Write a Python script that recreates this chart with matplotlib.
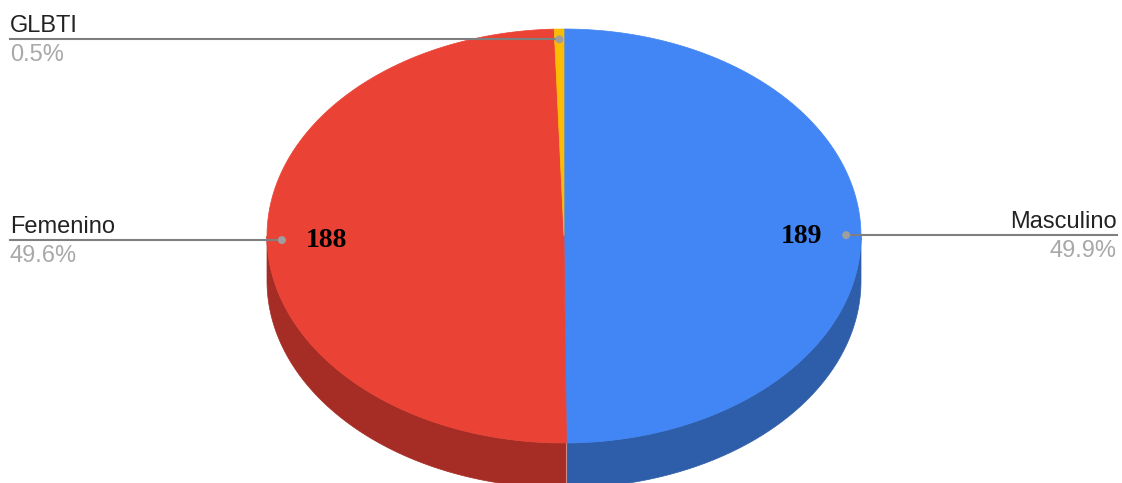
import numpy as np
import matplotlib
matplotlib.use("Agg")
import matplotlib.pyplot as plt
from matplotlib.patches import Polygon, Ellipse

# ---- data ----
labels = ["Masculino", "Femenino", "GLBTI"]
values = [189, 188, 2]
top_colors = ["#4285f4", "#ea4335", "#fbbc04"]
side_colors = ["#2e5eaa", "#a52d25", "#b08303"]

# ---- geometry (pixels) ----
W, H = 1122, 483
cx, cy = 564, 236
rx, ry = 297, 207
depth = 45
dot_r = 0.95
val_r = 0.80

fig = plt.figure(figsize=(W / 100, H / 100), dpi=100)
ax = fig.add_axes([0, 0, 1, 1])
ax.set_xlim(0, W)
ax.set_ylim(H, 0)
ax.axis("off")


def pt(theta_deg, r=1.0, dy=0.0):
    t = np.radians(theta_deg)
    return cx + r * rx * np.sin(t), cy - r * ry * np.cos(t) + dy


total = float(sum(values))
fracs = [v / total for v in values]
starts = np.concatenate([[0], np.cumsum(fracs)[:-1]]) * 360
ends = np.cumsum(fracs) * 360

# sides (front half: 90..270 deg clockwise from top)
for a0, a1, sc in zip(starts, ends, side_colors):
    s0, s1 = max(a0, 90), min(a1, 270)
    if s1 <= s0:
        continue
    th = np.linspace(s0, s1, 200)
    xs, ys = pt(th)
    top = np.column_stack([xs, ys])
    bot = np.column_stack([xs, ys + depth])[::-1]
    poly = Polygon(np.vstack([top, bot]), closed=True, facecolor=sc,
                   edgecolor=sc, lw=0.5, zorder=1)
    ax.add_patch(poly)

# seam line on the side at slice boundaries in the front
for a in ends[:-1]:
    if 90 < a < 270:
        x, y = pt(a)
        ax.plot([x, x], [y, y + depth], color="#d08a80", lw=0.8, zorder=1.5)

# top faces
for a0, a1, tc in zip(starts, ends, top_colors):
    th = np.linspace(a0, a1, max(3, int((a1 - a0) * 2)))
    xs, ys = pt(th)
    pts = np.vstack([[cx, cy], np.column_stack([xs, ys])])
    ax.add_patch(Polygon(pts, closed=True, facecolor=tc, edgecolor=tc,
                         lw=0.5, zorder=2))

# labels
name_font = dict(family=["Liberation Sans", "DejaVu Sans"], fontsize=17)
for lab, v, f, a0, a1 in zip(labels, values, fracs, starts, ends):
    mid = (a0 + a1) / 2
    dx, dyy = pt(mid, dot_r)
    left = np.sin(np.radians(mid)) < 0
    pct = f"{f * 100:.1f}%"
    if left:
        x_text, ha = 10, "left"
        ax.plot([x_text, dx], [dyy, dyy], color="#7f7f7f", lw=1.5, zorder=3)
    else:
        x_text, ha = W - 5, "right"
        ax.plot([dx, x_text], [dyy, dyy], color="#7f7f7f", lw=1.5, zorder=3)
    ax.add_patch(Ellipse((dx, dyy), 8, 8, facecolor="#9e9e9e",
                         edgecolor="none", zorder=4))
    ax.text(x_text, dyy - 7, lab, ha=ha, va="baseline", color="#222222",
            zorder=5, **name_font)
    ax.text(x_text, dyy + 22, pct, ha=ha, va="baseline", color="#a8a8a8",
            zorder=5, **name_font)
    if f > 0.05:
        vx, vy = pt(mid, val_r)
        ax.text(vx, vy + 1, str(v), ha="center", va="center",
                family=["Liberation Serif", "DejaVu Serif"],
                fontweight="bold", fontsize=20, color="black", zorder=5)

fig.savefig("out.png", dpi=100, facecolor="white")
